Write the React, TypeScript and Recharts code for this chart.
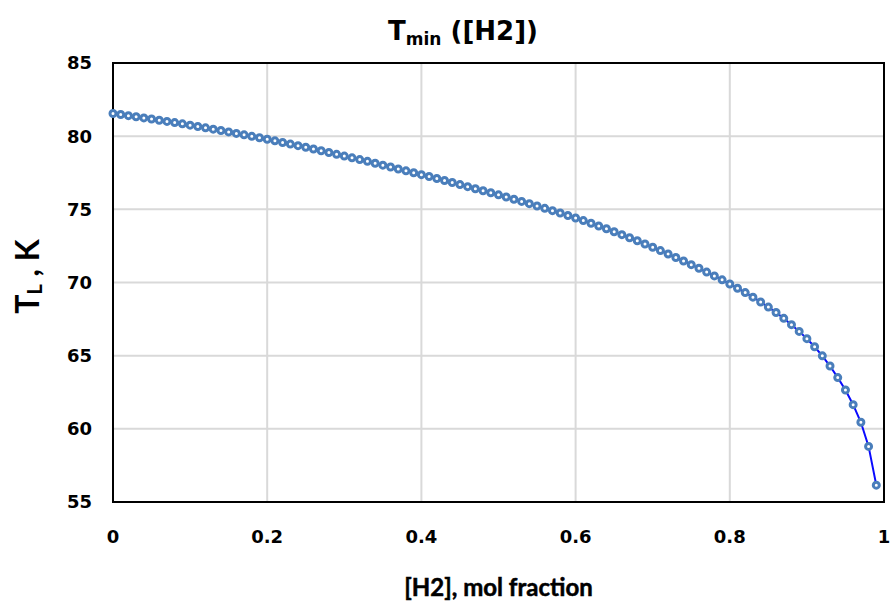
import { LineChart, Line, XAxis, YAxis, CartesianGrid, ReferenceArea } from 'recharts'

// mole fraction of H2, 0 .. 0.99 in steps of 0.01
const fractions = [
  0, 0.01, 0.02, 0.03, 0.04, 0.05, 0.06, 0.07, 0.08, 0.09,
  0.1, 0.11, 0.12, 0.13, 0.14, 0.15, 0.16, 0.17, 0.18, 0.19,
  0.2, 0.21, 0.22, 0.23, 0.24, 0.25, 0.26, 0.27, 0.28, 0.29,
  0.3, 0.31, 0.32, 0.33, 0.34, 0.35, 0.36, 0.37, 0.38, 0.39,
  0.4, 0.41, 0.42, 0.43, 0.44, 0.45, 0.46, 0.47, 0.48, 0.49,
  0.5, 0.51, 0.52, 0.53, 0.54, 0.55, 0.56, 0.57, 0.58, 0.59,
  0.6, 0.61, 0.62, 0.63, 0.64, 0.65, 0.66, 0.67, 0.68, 0.69,
  0.7, 0.71, 0.72, 0.73, 0.74, 0.75, 0.76, 0.77, 0.78, 0.79,
  0.8, 0.81, 0.82, 0.83, 0.84, 0.85, 0.86, 0.87, 0.88, 0.89,
  0.9, 0.91, 0.92, 0.93, 0.94, 0.95, 0.96, 0.97, 0.98, 0.99,
]

// T_L in K
const tempL = [
  81.55, 81.48, 81.4, 81.33, 81.25, 81.17, 81.09, 81.01, 80.93, 80.84,
  80.75, 80.66, 80.57, 80.48, 80.39, 80.29, 80.19, 80.09, 79.99, 79.89,
  79.79, 79.68, 79.57, 79.46, 79.35, 79.24, 79.12, 79.0, 78.88, 78.76,
  78.64, 78.52, 78.4, 78.28, 78.15, 78.02, 77.89, 77.76, 77.63, 77.5,
  77.37, 77.24, 77.11, 76.97, 76.83, 76.69, 76.55, 76.41, 76.27, 76.13,
  75.99, 75.84, 75.69, 75.54, 75.39, 75.23, 75.07, 74.91, 74.75, 74.58,
  74.41, 74.23, 74.05, 73.86, 73.67, 73.47, 73.27, 73.06, 72.85, 72.63,
  72.41, 72.18, 71.95, 71.71, 71.47, 71.22, 70.97, 70.71, 70.45, 70.18,
  69.9, 69.61, 69.31, 69.0, 68.67, 68.32, 67.95, 67.55, 67.12, 66.66,
  66.16, 65.61, 64.99, 64.29, 63.5, 62.65, 61.65, 60.45, 58.8, 56.15,
]

const xTicks = [0, 0.2, 0.4, 0.6, 0.8, 1]
const yTicks = [55, 60, 65, 70, 75, 80, 85]

const chartData = fractions.map((x, i) => ({ x, t: tempL[i] }))

const wide = '"DejaVu Sans", Verdana, sans-serif'
const narrow = 'Lato, "Open Sans", sans-serif'

function YTitle({ viewBox }: any) {
  const cy = viewBox.y + viewBox.height / 2 - 6
  const cx = 26
  return (
    <text
      x={cx}
      y={cy}
      transform={`rotate(-90 ${cx} ${cy})`}
      textAnchor="middle"
      dominantBaseline="central"
      fontFamily={narrow}
      fontWeight={700}
      fontSize={32}
      fill="#000"
    >
      T<tspan fontSize={20} dy={8}>L</tspan>
      <tspan dy={-8}> , K</tspan>
    </text>
  )
}

export default function App() {
  return (
    <div style={{ position: 'absolute', left: 0, top: 0, width: 893, height: 604, background: '#fff' }}>
      <svg width={893} height={60} style={{ position: 'absolute', left: 0, top: 0 }}>
        <text
          x={463}
          y={40}
          textAnchor="middle"
          fontFamily={wide}
          fontWeight={700}
          fontSize={26}
          fill="#000"
        >
          T<tspan fontSize={17} dy={5}>min</tspan>
          <tspan dy={-5}> ([H2])</tspan>
        </text>
      </svg>
      <LineChart
        width={893}
        height={604}
        data={chartData}
        margin={{ top: 63, right: 9, bottom: 2, left: 0 }}
      >
        <CartesianGrid stroke="#d9d9d9" strokeWidth={2} />
        <XAxis
          dataKey="x"
          type="number"
          domain={[0, 1]}
          ticks={xTicks}
          height={100}
          tickLine={false}
          tickSize={0}
          tickMargin={28}
          axisLine={{ stroke: '#000', strokeWidth: 2 }}
          tick={{ fontFamily: wide, fontWeight: 700, fontSize: 18, fill: '#000' }}
          label={{
            value: '[H2], mol fraction',
            position: 'insideBottom',
            offset: 6,
            fontFamily: narrow,
            fontWeight: 700,
            fontSize: 24,
            fill: '#000',
            stroke: '#000',
            strokeWidth: 0.5,
          }}
        />
        <YAxis
          type="number"
          domain={[55, 85]}
          ticks={yTicks}
          width={113}
          tickLine={false}
          tickSize={0}
          tickMargin={21}
          axisLine={{ stroke: '#000', strokeWidth: 2 }}
          tick={{ fontFamily: wide, fontWeight: 700, fontSize: 18, fill: '#000' }}
          label={<YTitle />}
        />
        <ReferenceArea
          x1={0}
          x2={1}
          y1={55}
          y2={85}
          fill="none"
          fillOpacity={0}
          stroke="#000"
          strokeWidth={2}
          ifOverflow="visible"
        />
        <Line
          dataKey="t"
          type="linear"
          stroke="#0a0aff"
          strokeWidth={2}
          dot={{ r: 3, stroke: '#4a7ebb', strokeWidth: 3, fill: '#fff' }}
          activeDot={false}
          isAnimationActive={false}
        />
      </LineChart>
    </div>
  )
}
